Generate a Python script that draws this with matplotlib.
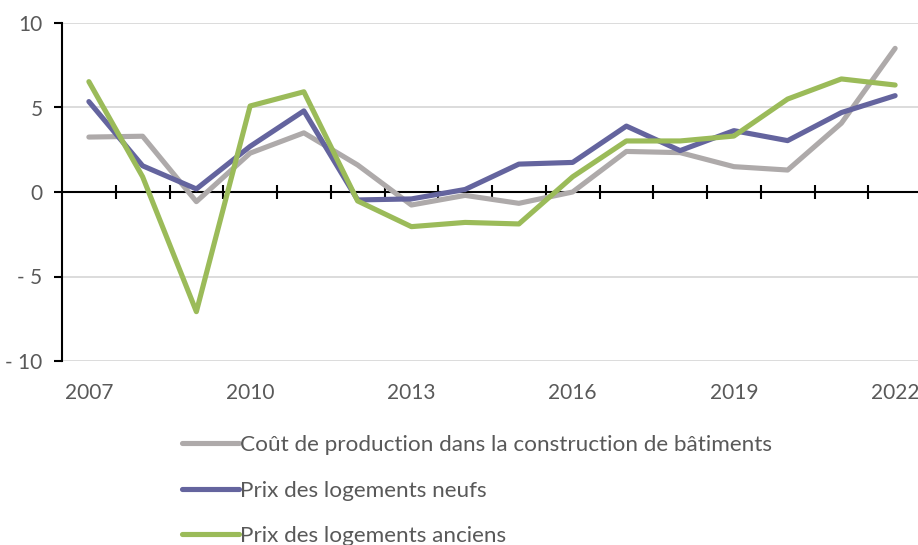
import matplotlib
matplotlib.use("Agg")
import matplotlib.pyplot as plt
from matplotlib.ticker import FixedLocator, FuncFormatter, NullFormatter

years = list(range(2007, 2023))
cout_production = [3.25, 3.3, -0.57, 2.3, 3.5, 1.6, -0.77, -0.2, -0.67, 0.0,
                   2.4, 2.33, 1.5, 1.3, 4.07, 8.5]
prix_neufs = [5.35, 1.55, 0.18, 2.7, 4.8, -0.47, -0.41, 0.15, 1.65, 1.75,
              3.9, 2.45, 3.63, 3.04, 4.7, 5.7]
prix_anciens = [6.53, 0.9, -7.08, 5.09, 5.93, -0.53, -2.05, -1.8, -1.89, 0.9,
                3.02, 3.02, 3.31, 5.5, 6.69, 6.33]
labels = ["Coût de production dans la construction de bâtiments",
          "Prix des logements neufs",
          "Prix des logements anciens"]
xtick_years = [2007, 2010, 2013, 2016, 2019, 2022]
yticks = [-10, -5, 0, 5, 10]

plt.rcParams['font.family'] = ['Lato', 'DejaVu Sans']
text_color = "#595959"
fs = 15
leg_fs = 16.2

fig = plt.figure(figsize=(9.18, 5.45), dpi=100)
ax = fig.add_axes([62/918, 1 - 361/545, (922 - 62)/918, (361 - 23)/545])

colors = ["#AEAAAA", "#64649E", "#9BBB59"]
series = [cout_production, prix_neufs, prix_anciens]
for vals, c, lab in zip(series, colors, labels):
    ax.plot(years, vals, color=c, lw=3.7, solid_capstyle='round',
            solid_joinstyle='round', label=lab, zorder=3)

ax.set_xlim(years[0] - 0.5, years[-1] + 0.5)
ax.set_ylim(-10, 10)

# grid
ax.yaxis.set_major_locator(FixedLocator(yticks))
ax.grid(axis='y', color="#D9D9D9", lw=1.3, zorder=0)
ax.set_axisbelow(True)
ax.axhline(0, color='black', lw=1.5, zorder=2)

for s in ['top', 'right', 'bottom']:
    ax.spines[s].set_visible(False)
ax.spines['left'].set_linewidth(1.5)
ax.spines['left'].set_color('black')

ax.yaxis.set_major_formatter(FuncFormatter(lambda v, p: f"- {abs(int(v))}" if v < 0 else f"{int(v)}"))
ax.tick_params(axis='y', direction='out', length=6, width=1.5, color='black',
               labelsize=fs, labelcolor=text_color, pad=8)

ax.set_xticks(xtick_years)
ax.tick_params(axis='x', length=0, labelsize=fs, labelcolor=text_color, pad=16)

# zero axis with between-category ticks
sec = ax.secondary_xaxis(0.5)
sec.spines['bottom'].set_visible(False)
sec.spines['top'].set_visible(False)
sec.set_xticks([y + 0.5 for y in years[:-1]])
sec.xaxis.set_major_formatter(NullFormatter())
sec.tick_params(axis='x', direction='inout', length=10, width=1.5, color='black')

leg = fig.legend(loc='upper left', bbox_to_anchor=(182/918, 1 - 435/545),
                 frameon=False, fontsize=leg_fs, handlelength=2.55,
                 handletextpad=0.05, labelspacing=1.14, borderpad=0,
                 borderaxespad=0)
for t in leg.get_texts():
    t.set_color(text_color)
for h in leg.get_lines():
    h.set_linewidth(3.7)

fig.savefig("out.png", dpi=100)
